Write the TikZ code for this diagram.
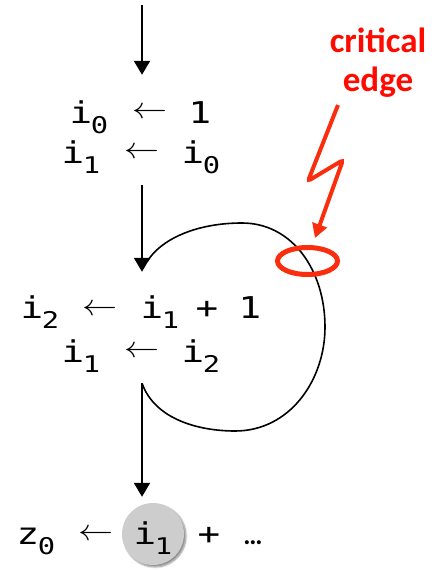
\documentclass[tikz,border=0pt]{standalone}
\usepackage{fontspec}
\usepackage{graphicx}
\usetikzlibrary{arrows.meta,shadows.blur}
\newfontfamily\monofont[FakeStretch=1.25]{DejaVu Sans Mono}
\newfontfamily\calfont{Carlito}
\definecolor{txtred}{RGB}{255,10,0}
\definecolor{shred}{RGB}{250,45,15}
\definecolor{circgray}{RGB}{205,205,205}
\newcommand\larr{\resizebox{35pt}{11pt}{$\leftarrow$}}
\newcommand\vs[2]{#1\kern-1.5pt\raisebox{-10pt}{\fontsize{23}{23}\selectfont #2}}
\tikzset{
  tok/.style={font=\monofont\fontsize{30}{30}\selectfont, inner sep=0pt, anchor=base},
  var/.style={tok, xshift=7.9pt},
  la/.style={inner sep=0pt, anchor=center},
  blk/.style={draw=none, inner sep=0pt, minimum width=40pt},
  flow/.style={line width=2pt, -{Triangle[width=16pt,length=14pt]}},
  loopline/.style={line width=1.6pt},
  lab/.style={font=\calfont\bfseries\fontsize{35}{35}\selectfont, text=txtred, inner sep=0pt, anchor=base},
}
\begin{document}
\begin{tikzpicture}[x=1pt,y=-1pt]
\useasboundingbox (0,0) rectangle (445,570);
% invisible blocks for connectors
\node[blk, minimum height=110pt] (blk1) at (142,130) {};
\node[blk, minimum height=111pt] (blk2) at (142,327.5) {};
\node[blk, minimum height=68pt] (blk3) at (142,531) {};
\coordinate (top) at (142,5);
% block 1
\node[var] (a1) at (81,123) {\vs{i}{0}};
\node[la]  (a3) at (150,113) {\larr};
\node[tok] (a4) at (200,123) {1};
\node[var] (b1) at (73,163) {\vs{i}{1}};
\node[la]  (b3) at (142,153) {\larr};
\node[var] (b4) at (193,163) {\vs{i}{0}};
% block 2
\node[var] (c1) at (32,318) {\vs{i}{2}};
\node[la]  (c3) at (100,310) {\larr};
\node[var] (c4) at (152,318) {\vs{i}{1}};
\node[tok] (c6) at (207,318) {+};
\node[tok] (c7) at (250,318) {1};
\node[var] (d1) at (73,362) {\vs{i}{1}};
\node[la]  (d3) at (142,352) {\larr};
\node[var] (d4) at (193,362) {\vs{i}{2}};
% bottom line
\node[circle, fill=circgray, minimum size=62pt, inner sep=0pt,
      blur shadow={shadow xshift=2pt, shadow yshift=-2pt, shadow blur steps=6, shadow opacity=45}] (circ) at (153,534) {};
\node[var] (e1) at (28,544) {\vs{z}{0}};
\node[la]  (e3) at (96,535) {\larr};
\node[var] (e4) at (145,544) {\vs{i}{1}};
\node[tok] (e6) at (209,544) {+};
\node[font=\calfont\bfseries\fontsize{27}{27}\selectfont, inner sep=0pt, anchor=base] (e7) at (253,544) {…};
% flow arrows
\draw[flow] (top) -- (blk1.north);
\draw[flow] (blk1.south) -- (blk2.north);
\draw[flow] (blk2.south) -- (blk3.north);
% back edge loop
\draw[loopline] (blk2.south)
   .. controls (155,420) and (200,431) .. (235,431)
   .. controls (290,431) and (325,380) .. (325,327)
   .. controls (325,270) and (292,223) .. (242,223)
   .. controls (195,223) and (160,240) .. ([xshift=5pt,yshift=10pt]blk2.north);
% red annotation
\node[lab] (lblA) at (378,52) {critical};
\node[lab] (lblB) at (378,91) {edge};
\draw[shred, line width=5pt] (307.5,261) ellipse [x radius=30pt, y radius=13.5pt];
\coordinate (tip) at (315,238);
\draw[shred, line width=4pt, rounded corners=3pt, -{Triangle[width=15pt,length=14pt]}]
   (338,105) -- (308,181) -- (343,160) -- (tip);
\end{tikzpicture}
\end{document}
